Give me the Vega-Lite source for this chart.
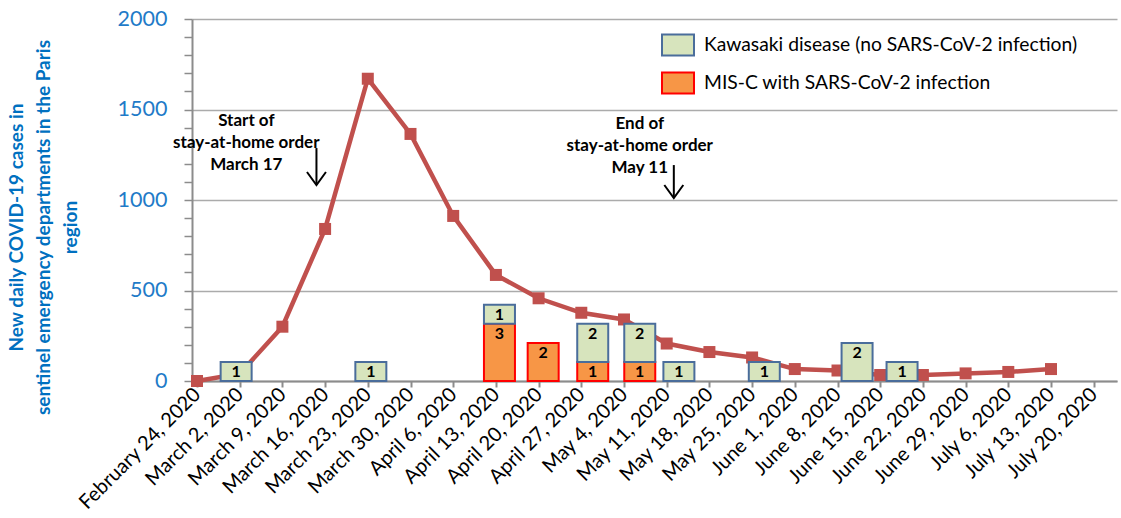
{
  "$schema": "https://vega.github.io/schema/vega-lite/v6.json",
  "width": 925,
  "height": 362,
  "autosize": {"type": "none"},
  "padding": {"left": 192, "top": 19, "right": 4, "bottom": 137},
  "background": "white",
  "config": {"view": {"stroke": null}, "font": "Lato"},
  "resolve": {"scale": {"y": "independent"}},
  "layer": [
    {
      "data": {"values": [
        {"week": "2020-02-24T00:00", "cases": 0},
        {"week": "2020-03-02T00:00", "cases": 40},
        {"week": "2020-03-09T00:00", "cases": 300},
        {"week": "2020-03-16T00:00", "cases": 840},
        {"week": "2020-03-23T00:00", "cases": 1670},
        {"week": "2020-03-30T00:00", "cases": 1365},
        {"week": "2020-04-06T00:00", "cases": 912},
        {"week": "2020-04-13T00:00", "cases": 586},
        {"week": "2020-04-20T00:00", "cases": 457},
        {"week": "2020-04-27T00:00", "cases": 377},
        {"week": "2020-05-04T00:00", "cases": 340},
        {"week": "2020-05-11T00:00", "cases": 207},
        {"week": "2020-05-18T00:00", "cases": 160},
        {"week": "2020-05-25T00:00", "cases": 130},
        {"week": "2020-06-01T00:00", "cases": 66},
        {"week": "2020-06-08T00:00", "cases": 58},
        {"week": "2020-06-15T00:00", "cases": 33},
        {"week": "2020-06-22T00:00", "cases": 33},
        {"week": "2020-06-29T00:00", "cases": 42},
        {"week": "2020-07-06T00:00", "cases": 50},
        {"week": "2020-07-13T00:00", "cases": 66}
      ]},
      "mark": {"type": "line", "color": "#C0504D", "strokeWidth": 4.5,
               "point": {"shape": "square", "size": 144, "filled": true, "color": "#C0504D"}},
      "encoding": {
        "x": {"field": "week", "type": "temporal",
              "scale": {"domain": [{"year": 2020, "month": "feb", "date": 24}, {"year": 2020, "month": "jul", "date": 23}], "nice": false},
              "axis": {
                "values": [
                  {"year": 2020, "month": "feb", "date": 24},
                  {"year": 2020, "month": "mar", "date": 2},
                  {"year": 2020, "month": "mar", "date": 9},
                  {"year": 2020, "month": "mar", "date": 16},
                  {"year": 2020, "month": "mar", "date": 23},
                  {"year": 2020, "month": "mar", "date": 30},
                  {"year": 2020, "month": "apr", "date": 6},
                  {"year": 2020, "month": "apr", "date": 13},
                  {"year": 2020, "month": "apr", "date": 20},
                  {"year": 2020, "month": "apr", "date": 27},
                  {"year": 2020, "month": "may", "date": 4},
                  {"year": 2020, "month": "may", "date": 11},
                  {"year": 2020, "month": "may", "date": 18},
                  {"year": 2020, "month": "may", "date": 25},
                  {"year": 2020, "month": "jun", "date": 1},
                  {"year": 2020, "month": "jun", "date": 8},
                  {"year": 2020, "month": "jun", "date": 15},
                  {"year": 2020, "month": "jun", "date": 22},
                  {"year": 2020, "month": "jun", "date": 29},
                  {"year": 2020, "month": "jul", "date": 6},
                  {"year": 2020, "month": "jul", "date": 13},
                  {"year": 2020, "month": "jul", "date": 20}
                ],
                "format": "%B %-d, %Y",
                "labelAngle": -45,
                "labelAlign": "right",
                "labelBaseline": "middle",
                "labelFontSize": 20,
                "labelFont": "Lato",
                "labelColor": "black",
                "labelPadding": 4,
                "labelOverlap": false,
                "labelFlush": false,
                "labelBound": false,
                "labelLimit": 0,
                "grid": false,
                "domainColor": "#8C8C8C",
                "domainWidth": 2,
                "tickColor": "#8C8C8C",
                "tickWidth": 2,
                "tickSize": 6,
                "title": null
              }},
        "y": {"field": "cases", "type": "quantitative",
              "scale": {"domain": [0, 2000], "nice": false},
              "axis": {
                "values": [0,100,200,300,400,500,600,700,800,900,1000,1100,1200,1300,1400,1500,1600,1700,1800,1900,2000],
                "format": "d",
                "labelExpr": "datum.value % 500 === 0 ? datum.label : ''",
                "gridOpacity": {"condition": {"test": "datum.value % 500 === 0", "value": 1}, "value": 0},
                "gridColor": "#ABABAB",
                "gridWidth": 1.5,
                "labelFontSize": 21.5,
                "labelFont": "Lato",
                "labelColor": "#1F7BC8",
                "labelPadding": 17,
                "tickSize": 8,
                "tickColor": "#8C8C8C",
                "tickWidth": 1.5,
                "domainColor": "#8C8C8C",
                "domainWidth": 2,
                "title": ["New daily COVID-19 cases in", "sentinel emergency departments  in the Paris", "region"],
                "titleFontSize": 19,
                "titleFontWeight": "bold",
                "titleFont": "Lato",
                "titleColor": "#0070C0",
                "titleAngle": -90,
                "titleX": -185,
                "titleY": 208,
                "titleAlign": "center",
                "titleBaseline": "top",
                "titleLineHeight": 27,
                "titleLimit": 0
              }}
      }
    },
    {
      "data": {"values": [
        {"week": "2020-04-13T14:00", "type": "MIS-C with SARS-CoV-2 infection", "n": 3},
        {"week": "2020-04-20T18:00", "type": "MIS-C with SARS-CoV-2 infection", "n": 2},
        {"week": "2020-04-28T21:00", "type": "MIS-C with SARS-CoV-2 infection", "n": 1},
        {"week": "2020-05-06T14:00", "type": "MIS-C with SARS-CoV-2 infection", "n": 1},
        {"week": "2020-03-01T10:00", "type": "Kawasaki disease (no SARS-CoV-2 infection)", "n": 1},
        {"week": "2020-03-23T12:00", "type": "Kawasaki disease (no SARS-CoV-2 infection)", "n": 1},
        {"week": "2020-04-13T14:00", "type": "Kawasaki disease (no SARS-CoV-2 infection)", "n": 1},
        {"week": "2020-04-28T21:00", "type": "Kawasaki disease (no SARS-CoV-2 infection)", "n": 2},
        {"week": "2020-05-06T14:00", "type": "Kawasaki disease (no SARS-CoV-2 infection)", "n": 2},
        {"week": "2020-05-13T00:00", "type": "Kawasaki disease (no SARS-CoV-2 infection)", "n": 1},
        {"week": "2020-05-27T00:00", "type": "Kawasaki disease (no SARS-CoV-2 infection)", "n": 1},
        {"week": "2020-06-11T05:00", "type": "Kawasaki disease (no SARS-CoV-2 infection)", "n": 2},
        {"week": "2020-06-18T14:00", "type": "Kawasaki disease (no SARS-CoV-2 infection)", "n": 1}
      ]},
      "transform": [
        {"stack": "n", "groupby": ["week"], "sort": [{"field": "type", "order": "descending"}], "as": ["c0", "c1"]}
      ],
      "layer": [
        {
          "mark": {"type": "bar", "width": 31, "strokeWidth": 2},
          "encoding": {
            "x": {"field": "week", "type": "temporal"},
            "y": {"field": "c0", "type": "quantitative", "scale": {"domain": [0, 19], "nice": false}, "axis": null},
            "y2": {"field": "c1"},
            "fill": {"field": "type", "type": "nominal",
                     "scale": {"domain": ["Kawasaki disease (no SARS-CoV-2 infection)", "MIS-C with SARS-CoV-2 infection"], "range": ["#D7E4BD", "#F79646"]},
                     "legend": {"orient": "none", "legendX": 469, "legendY": 9, "title": null, "padding": 0,
                                "symbolType": "M-1,-0.66H1V0.66H-1Z", "symbolSize": 1024, "symbolStrokeWidth": 2,
                                "labelFontSize": 19.3, "labelFont": "Lato", "labelColor": "black", "labelOffset": 9, "rowPadding": 6, "labelLimit": 0}},
            "stroke": {"field": "type", "type": "nominal",
                       "scale": {"domain": ["Kawasaki disease (no SARS-CoV-2 infection)", "MIS-C with SARS-CoV-2 infection"], "range": ["#4A6D9B", "#FF0000"]},
                       "legend": {"orient": "none", "legendX": 469, "legendY": 9, "title": null, "padding": 0,
                                  "symbolType": "M-1,-0.66H1V0.66H-1Z", "symbolSize": 1024, "symbolStrokeWidth": 2,
                                  "labelFontSize": 19.3, "labelFont": "Lato", "labelColor": "black", "labelOffset": 9, "rowPadding": 6, "labelLimit": 0}}
          }
        },
        {
          "mark": {"type": "text", "fontWeight": "bold", "fontSize": 16, "font": "Lato", "color": "black", "baseline": "middle", "dy": 10},
          "encoding": {
            "x": {"field": "week", "type": "temporal"},
            "y": {"field": "c1", "type": "quantitative", "scale": {"domain": [0, 19], "nice": false}, "axis": null},
            "text": {"field": "n", "type": "quantitative"}
          }
        }
      ]
    },
    {
      "data": {"values": [
        {"week": "2020-03-03T02:00", "cases": 1480, "label": ["Start of", "stay-at-home order", "March 17"]},
        {"week": "2020-05-06T14:00", "cases": 1462, "label": ["End of", "stay-at-home order", "May 11"]}
      ]},
      "mark": {"type": "text", "fontWeight": "bold", "fontSize": 17, "font": "Lato", "color": "black", "align": "center", "baseline": "top", "lineHeight": 22},
      "encoding": {
        "x": {"field": "week", "type": "temporal"},
        "y": {"field": "cases", "type": "quantitative", "scale": {"domain": [0, 2000], "nice": false}, "axis": null},
        "text": {"field": "label"}
      }
    },
    {
      "data": {"values": [
        {"week": "2020-03-14T14:00", "top": 1287, "tip": 1083},
        {"week": "2020-05-12T04:00", "top": 1193, "tip": 1011}
      ]},
      "layer": [
        {
          "mark": {"type": "rule", "color": "black", "strokeWidth": 2},
          "encoding": {
            "x": {"field": "week", "type": "temporal"},
            "y": {"field": "top", "type": "quantitative", "scale": {"domain": [0, 2000], "nice": false}, "axis": null},
            "y2": {"field": "tip"}
          }
        },
        {
          "mark": {"type": "point", "shape": "M-0.73,-1L0,0L0.73,-1", "size": 676, "filled": false, "color": "black", "strokeWidth": 2, "opacity": 1},
          "encoding": {
            "x": {"field": "week", "type": "temporal"},
            "y": {"field": "tip", "type": "quantitative", "scale": {"domain": [0, 2000], "nice": false}, "axis": null}
          }
        }
      ]
    }
  ]
}
